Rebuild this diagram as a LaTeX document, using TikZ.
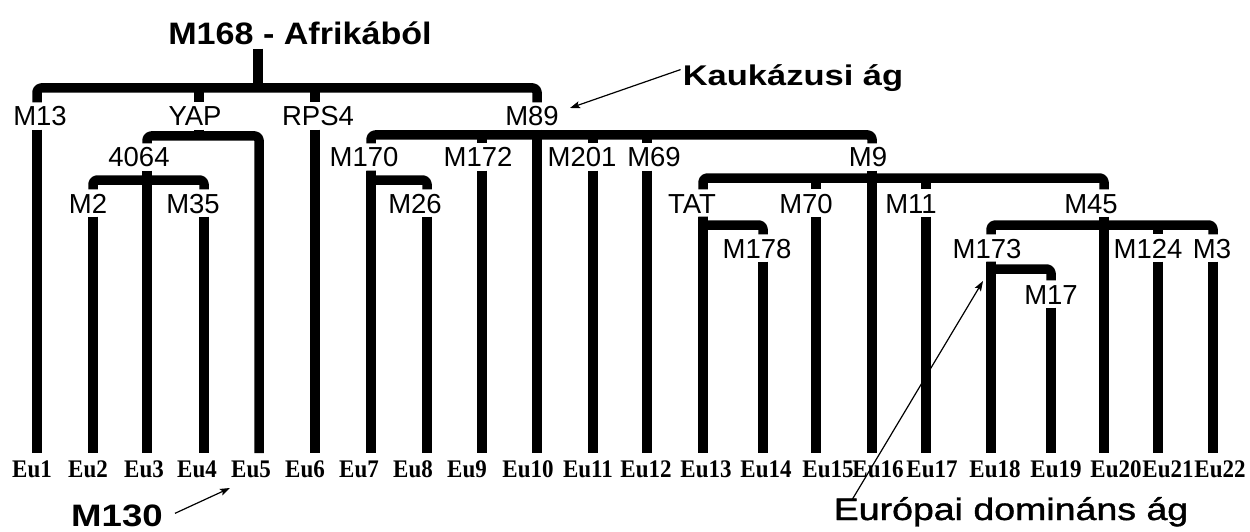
\documentclass[tikz,border=0pt]{standalone}
\usepackage{graphicx}
\usepackage{fontspec}
\setmainfont{Liberation Sans}
\newfontfamily\serifbold{Liberation Serif}
\newfontfamily\calloutfont{Liberation Sans}[FakeBold=1.2]
\usetikzlibrary{arrows.meta}
% horizontally widened text
\newcommand{\hstretch}[2]{\scalebox{#1}[1]{#2}}

\begin{document}
\begin{tikzpicture}[x=1pt,y=-1pt,
  branch/.style={line width=9.5pt, line join=round, rounded corners=4pt},
  lab/.style={font=\fontsize{27.5}{30}\selectfont, inner xsep=0pt, inner ysep=3.5pt,
              text height=20pt, text depth=0pt, anchor=base},
  leaf/.style={font=\serifbold\bfseries\fontsize{23}{25}\selectfont, inner sep=0pt, anchor=base},
  head/.style={font=\bfseries\fontsize{#1}{#1}\selectfont, inner sep=0pt, anchor=base},
  head/.default=31,
  callout/.style={font=\calloutfont\fontsize{31}{34}\selectfont, inner sep=0pt, anchor=base},
  pointer/.style={line width=1.2pt, -{Stealth[length=10pt,width=7pt,inset=2pt]}},
]
\useasboundingbox (0,0) rectangle (1250,532);

% leaf line ends and leaf names
\foreach \n/\x in {1/37,2/93,3/147,4/204,5/259,6/315,7/371,8/427,9/482,10/537,11/593,
                   12/647,13/703,14/763,15/816,16/872,17/926,18/991,19/1051,20/1104,21/1158,22/1213}
  \coordinate (e\n) at (\x,453);
\foreach \n/\x in {1/32,2/88,3/144,4/197,5/251,6/305,7/359,8/413,9/467,10/528,11/588,
                   12/646,13/706,14/766,15/828,16/878,17/932,18/995,19/1056,20/1116,21/1168,22/1220}
  \node[leaf] (Eu\n) at (\x,477) {\scalebox{1}[1.1]{Eu\n}};

% heights of the horizontal bars
\coordinate (bA) at (0,88);
\coordinate (bB) at (0,136);
\coordinate (bC) at (0,135);
\coordinate (bD) at (0,180);
\coordinate (bE) at (0,180);
\coordinate (bF) at (0,178);
\coordinate (bG) at (0,225);
\coordinate (bH) at (0,225);
\coordinate (bI) at (0,269);
\coordinate (xYAP) at (199,0);
\coordinate (rs) at (258,88);

% marker names
\node[head, inner ysep=3pt] (root) at (300,45) {\hstretch{1.10}{M168 - Afrikából}};
\node[lab] (M13)  at (40,126)  {M13};
\node[lab] (YAP)  at (195,126) {YAP};
\node[lab] (RPS4) at (318,126) {RPS4};
\node[lab] (M89)  at (532,126) {M89};
\node[lab] (n4064) at (139,167) {4064};
\node[lab] (M170) at (364,167) {M170};
\node[lab] (M172) at (478,167) {M172};
\node[lab] (M201) at (582,167) {M201};
\node[lab] (M69)  at (654,167) {M69};
\node[lab] (M9)   at (868,167) {M9};
\node[lab] (M2)   at (88,213)  {M2};
\node[lab] (M35)  at (193,213) {M35};
\node[lab] (M26)  at (415,213) {M26};
\node[lab] (TAT)  at (692,213) {TAT};
\node[lab] (M70)  at (806,213) {M70};
\node[lab] (M11)  at (911,213) {M11};
\node[lab] (M45)  at (1091,213) {M45};
\node[lab] (M178) at (757,258) {M178};
\node[lab] (M173) at (987,258) {M173};
\node[lab] (M124) at (1148,258) {M124};
\node[lab] (M3)   at (1212,258) {M3};
\node[lab] (M17)  at (1051,304) {M17};

% root
\draw[branch] (root.south -| rs) -- (rs);
\draw[branch] (M13.north -| e1) |- (bA -| e10) -- (M89.north -| e10);
\draw[branch] (bA -| xYAP) -- (YAP.north -| xYAP);
\draw[branch] (bA -| e6) -- (RPS4.north -| e6);
\draw[branch] (M13.south -| e1) -- (e1);
\draw[branch] (RPS4.south -| e6) -- (e6);

% YAP
\draw[branch] (YAP.south -| xYAP) -- (bB -| xYAP);
\draw[branch] (n4064.north -| e3) |- (bB -| e5) -- (e5);
\draw[branch] (n4064.south -| e3) -- (e3);
\draw[branch] (M2.north -| e2) |- (bD -| e4) -- (M35.north -| e4);
\draw[branch] (M2.south -| e2) -- (e2);
\draw[branch] (M35.south -| e4) -- (e4);

% M89
\draw[branch] (M89.south -| e10) -- (e10);
\draw[branch] (M170.north -| e7) |- (bC -| e16) -- (M9.north -| e16);
\draw[branch] (bC -| e9) -- (M172.north -| e9);
\draw[branch] (bC -| e11) -- (M201.north -| e11);
\draw[branch] (bC -| e12) -- (M69.north -| e12);
\draw[branch] (M170.south -| e7) -- (e7);
\draw[branch] (M170.south -| e7) |- (bE -| e8) -- (M26.north -| e8);
\draw[branch] (M26.south -| e8) -- (e8);
\draw[branch] (M172.south -| e9) -- (e9);
\draw[branch] (M201.south -| e11) -- (e11);
\draw[branch] (M69.south -| e12) -- (e12);

% M9
\draw[branch] (M9.south -| e16) -- (e16);
\draw[branch] (TAT.north -| e13) |- (bF -| e20) -- (M45.north -| e20);
\draw[branch] (bF -| e15) -- (M70.north -| e15);
\draw[branch] (bF -| e17) -- (M11.north -| e17);
\draw[branch] (TAT.south -| e13) -- (e13);
\draw[branch] (TAT.south -| e13) |- (bG -| e14) -- (M178.north -| e14);
\draw[branch] (M178.south -| e14) -- (e14);
\draw[branch] (M70.south -| e15) -- (e15);
\draw[branch] (M11.south -| e17) -- (e17);

% M45
\draw[branch] (M45.south -| e20) -- (e20);
\draw[branch] (M173.north -| e18) |- (bH -| e22) -- (M3.north -| e22);
\draw[branch] (bH -| e21) -- (M124.north -| e21);
\draw[branch] (M173.south -| e18) -- (e18);
\draw[branch] (M173.south -| e18) |- (bI -| e19) -- (M17.north -| e19);
\draw[branch] (M17.south -| e19) -- (e19);
\draw[branch] (M124.south -| e21) -- (e21);
\draw[branch] (M3.south -| e22) -- (e22);

% callouts
\node[head=28.5] (kauk) at (793,86) {\hstretch{1.21}{Kaukázusi ág}};
\coordinate (kt) at (570,108);
\draw[pointer] ([xshift=-2pt,yshift=9pt]kauk.west) -- (kt);

\node[head] (m130) at (117,526) {\hstretch{1.18}{M130}};
\coordinate (t130) at (230,488);
\draw[pointer] ([xshift=12pt,yshift=2pt]m130.east) -- (t130);

\node[callout] (eur) at (1011,520) {\hstretch{1.21}{Európai domináns ág}};
\coordinate (teur) at (983,281);
\draw[pointer] ([xshift=19pt,yshift=-2pt]eur.north west) -- (teur);
\end{tikzpicture}
\end{document}
